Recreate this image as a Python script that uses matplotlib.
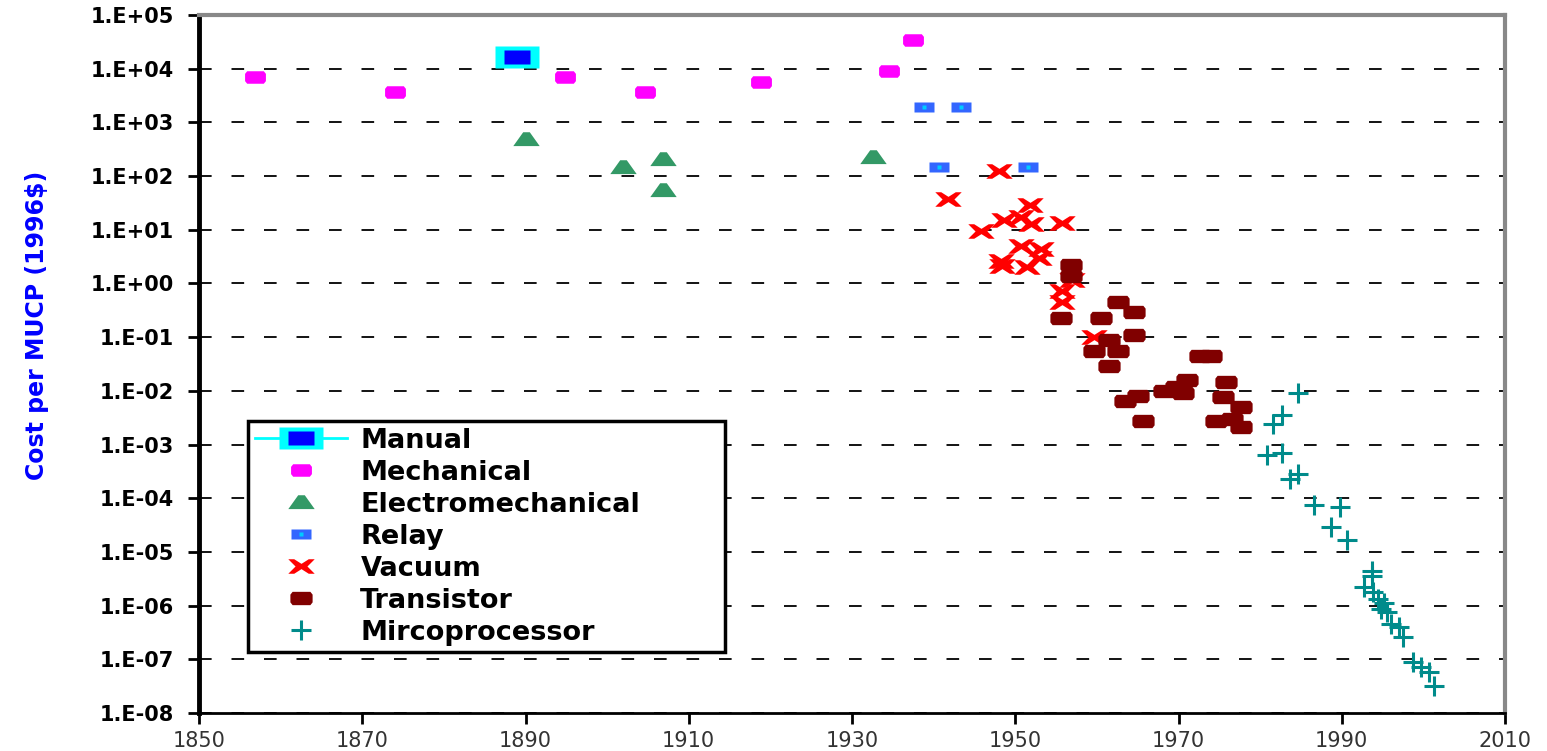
import matplotlib

matplotlib.use("Agg")
import matplotlib.pyplot as plt
import numpy as np
from matplotlib.legend_handler import HandlerTuple

# --- data ---
manual_year = [1889.0]
manual_cost = [1.66e4]

mech_year = [1856.9, 1874.0, 1894.9, 1904.7, 1918.8, 1934.5, 1937.5]
mech_cost = [7000, 3700, 7000, 3700, 5700, 9100, 34000]

elmech_year = [1890.1, 1902.0, 1906.8, 1906.8, 1932.6]
elmech_cost = [480, 150, 210, 56, 230]

relay_year = [1938.8, 1943.4, 1940.6, 1951.6]
relay_cost = [1950, 1950, 150, 150]

vacuum_year = [1948.0, 1941.7, 1951.8, 1948.6, 1950.7, 1951.9, 1955.7, 1945.8,
               1950.7, 1953.1, 1952.9, 1948.2, 1948.4, 1951.5, 1955.7, 1955.7,
               1957.0, 1959.6]
vacuum_cost = [126, 38, 29, 15.5, 17, 12.6, 13.5, 9.4,
               4.9, 4.3, 3.0, 2.6, 2.1, 2.0, 0.72, 0.45,
               1.14, 0.10]

trans_year = [1956.8, 1956.8, 1955.6, 1960.5, 1962.6, 1964.6, 1964.6, 1961.5,
              1959.6, 1962.6, 1961.5, 1972.6, 1974.0, 1968.2, 1969.7, 1971.1,
              1970.6, 1975.8, 1963.5, 1965.0, 1965.7, 1975.4, 1977.6, 1976.6,
              1977.6, 1974.6]
trans_cost = [2.2, 1.4, 0.224, 0.224, 0.444, 0.30, 0.108, 0.087,
              0.055, 0.055, 0.029, 0.044, 0.044, 0.0098, 0.0118, 0.0159,
              0.0093, 0.0145, 0.0065, 0.0079, 0.0027, 0.0076, 0.0050, 0.0030,
              0.0021, 0.0027]

micro_year = [1984.7, 1982.7, 1981.6, 1980.8, 1982.7, 1984.7, 1983.6, 1986.6,
              1989.8, 1988.7, 1990.6, 1993.7, 1993.7, 1992.7, 1993.8, 1994.4,
              1995.2, 1994.8, 1995.6, 1996.0, 1997.0, 1997.5, 1998.7, 1999.7,
              2000.7, 2001.3]
micro_cost = [0.009, 0.0035, 0.0024, 6.4e-4, 6.9e-4, 2.8e-4, 2.3e-4, 7.5e-5,
              6.9e-5, 2.9e-5, 1.7e-5, 4.4e-6, 3.5e-6, 2.2e-6, 1.8e-6, 1.35e-6,
              1.1e-6, 8.7e-7, 7.7e-7, 4.6e-7, 4.0e-7, 2.6e-7, 9.1e-8, 7.2e-8,
              5.9e-8, 3.2e-8]

x_ticks = [1850, 1870, 1890, 1910, 1930, 1950, 1970, 1990, 2010]
y_exponents = [-8, -7, -6, -5, -4, -3, -2, -1, 0, 1, 2, 3, 4, 5]
y_labels = ["1.E-08", "1.E-07", "1.E-06", "1.E-05", "1.E-04", "1.E-03", "1.E-02",
            "1.E-01", "1.E+00", "1.E+01", "1.E+02", "1.E+03", "1.E+04", "1.E+05"]

# --- marker shapes (wide, like the stretched original) ---
BLOB = [(-1, -0.35), (-0.8, -0.6), (0.8, -0.6), (1, -0.35),
        (1, 0.35), (0.8, 0.6), (-0.8, 0.6), (-1, 0.35)]
RECT = [(-1, -0.5), (1, -0.5), (1, 0.5), (-1, 0.5)]
TRI = [(-1, -0.5), (1, -0.5), (0.25, 0.55), (-0.25, 0.55)]
BOWX = [(-1, 0.55), (-0.55, 0.55), (0, 0.2), (0.55, 0.55), (1, 0.55), (0.45, 0),
        (1, -0.55), (0.55, -0.55), (0, -0.2), (-0.55, -0.55), (-1, -0.55), (-0.45, 0)]

plt.rcParams["font.family"] = ["DejaVu Sans"]
plt.rcParams["font.weight"] = "bold"

fig = plt.figure(figsize=(15.47, 7.51), dpi=100)
ax = fig.add_axes([199 / 1547, 1 - 713 / 751, 1306 / 1547, 698 / 751])

m_out, = ax.plot(manual_year, manual_cost, ls="-", c="#00FFFF", lw=2,
                 marker=RECT, ms=31, mfc="#00FFFF", mec="none", zorder=3)
m_in, = ax.plot(manual_year, manual_cost, ls="none",
                marker=RECT, ms=19, mfc="#0000FF", mec="none", zorder=3)
mech, = ax.plot(mech_year, mech_cost, ls="none", marker=BLOB, ms=15,
                mfc="#FF00FF", mec="none", zorder=3)
elm, = ax.plot(elmech_year, elmech_cost, ls="none", marker=TRI, ms=19,
               mfc="#339966", mec="none", zorder=3)
rel, = ax.plot(relay_year, relay_cost, ls="none", marker=RECT, ms=14,
               mfc="#3366FF", mec="none", zorder=3)
rel_c, = ax.plot(relay_year, relay_cost, ls="none", marker="s", ms=3.5,
                 mfc="#00CCFF", mec="none", zorder=3)
vac, = ax.plot(vacuum_year, vacuum_cost, ls="none", marker=BOWX, ms=19,
               mfc="#FF0000", mec="none", zorder=3)
tra, = ax.plot(trans_year, trans_cost, ls="none", marker=BLOB, ms=16,
               mfc="#800000", mec="none", zorder=4)
mic, = ax.plot(micro_year, micro_cost, ls="none", marker="+", ms=15, mew=2.2,
               mec="#008B8B", zorder=5)

ax.set_xlim(1850, 2010)
ax.set_yscale("log")
ax.set_ylim(1e-8, 1e5)
ax.set_xticks(x_ticks)
ax.set_xticklabels([str(x) for x in x_ticks], fontsize=15, fontweight="normal",
                   color="#333333")
ax.set_yticks([10.0 ** e for e in y_exponents])
ax.set_yticklabels(y_labels, fontsize=15)
ax.yaxis.set_minor_locator(matplotlib.ticker.NullLocator())
ax.tick_params(axis="both", direction="out", length=8, width=2, color="black")
ax.tick_params(axis="y", pad=10)
ax.tick_params(axis="x", pad=5)

ax.grid(axis="y", color="black", lw=1.3, ls=(0, (7, 11)))
ax.set_axisbelow(True)

ax.spines["left"].set_linewidth(3.5)
ax.spines["left"].set_color("black")
ax.spines["bottom"].set_linewidth(2)
ax.spines["bottom"].set_color("black")
for side in ("top", "right"):
    ax.spines[side].set_linewidth(3)
    ax.spines[side].set_color("#888888")

fig.text(37 / 1547, 1 - 325 / 751, "Cost per MUCP (1996$)", rotation=90,
         ha="center", va="center", fontsize=17, color="#0000FF")

leg = ax.legend([(m_out, m_in), mech, elm, (rel, rel_c), vac, tra, mic],
                ["Manual", "Mechanical", "Electromechanical", "Relay",
                 "Vacuum", "Transistor", "Mircoprocessor"],
                handler_map={tuple: HandlerTuple(ndivide=1, pad=0)},
                loc="lower left", bbox_to_anchor=(0.0375, 0.087, 0.365, 0.337),
                mode="expand", borderaxespad=0, fontsize=19.5, handlelength=3.4,
                handletextpad=0.5, labelspacing=0.22, borderpad=0.25,
                fancybox=False, edgecolor="black", framealpha=1)
leg.get_frame().set_linewidth(2.5)

fig.savefig("out.png", dpi=100)
